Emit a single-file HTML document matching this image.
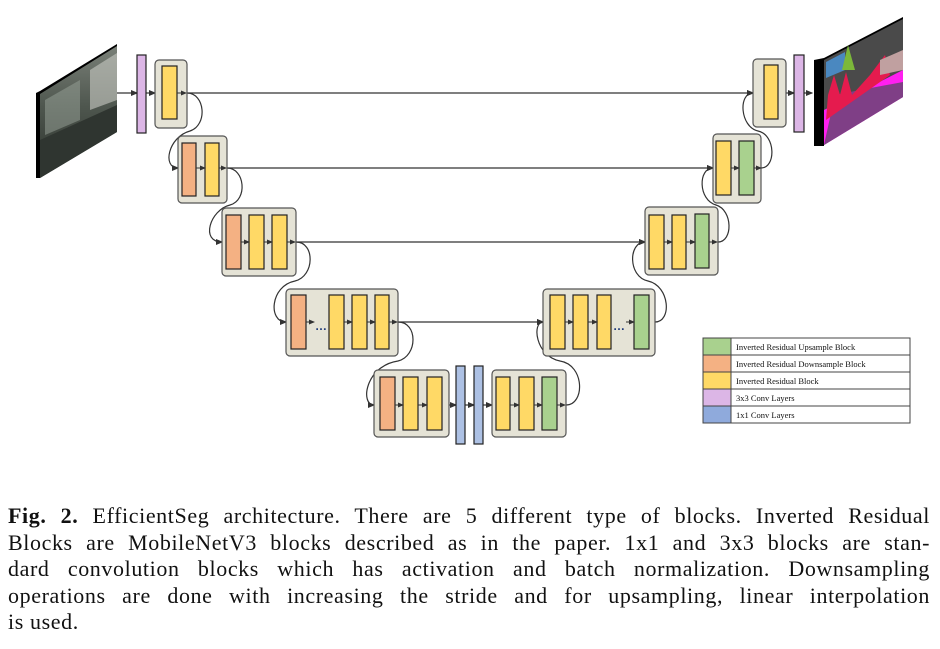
<!DOCTYPE html>
<html><head><meta charset="utf-8"><style>
html,body{margin:0;padding:0;background:#fff;width:940px;height:649px;overflow:hidden}
.cap{position:absolute;left:8px;top:503px;width:922px;font-family:"Liberation Serif",serif;font-size:22px;letter-spacing:0.6px;line-height:26.6px;color:#111}
.cap div{text-align:justify;text-align-last:justify;white-space:nowrap;height:26.6px}
.cap div.last{text-align-last:left}
</style></head><body>
<svg width="940" height="649" style="position:absolute;left:0;top:0" xmlns="http://www.w3.org/2000/svg">
<defs>
<marker id="a" markerWidth="6" markerHeight="6" refX="5" refY="3" orient="auto"><path d="M0,0.5 L6,3 L0,5.5z" fill="#333"/></marker>
<linearGradient id="street" x1="0" y1="0" x2="0" y2="1"><stop offset="0" stop-color="#7a8078"/><stop offset="0.45" stop-color="#4f574f"/><stop offset="1" stop-color="#2a302a"/></linearGradient>
</defs>
<polygon points="36,93 40,91 117,44 117,47 40,96 40,178 36,178" fill="#000"/>
<polygon points="40,94 117,46 117,132 40,178" fill="url(#street)"/>
<polygon points="90,70 117,53 117,100 90,110" fill="#c9ccc4" opacity="0.6"/>
<polygon points="45,100 80,80 80,120 45,135" fill="#9aa39a" opacity="0.5"/>
<polygon points="40,140 117,105 117,132 40,178" fill="#2f3530"/>
<polygon points="814,60 824,58 903,17 903,20 824,62 824,146 814,146" fill="#000"/>
<polygon points="824,60 903,19 903,97 824,145" fill="#4a4a4a"/>
<polygon points="824,110 903,70 903,97 824,145" fill="#ff1ff0"/>
<polygon points="835,95 860,90 903,82 903,97 824,145" fill="#7f3f86"/>
<polygon points="826,62 845,52 845,70 826,78" fill="#4a88c0"/>
<polygon points="842,70 848,45 855,70" fill="#7cb83a"/>
<polygon points="828,95 834,75 840,95 846,72 852,95 870,75 885,55 890,75 826,120" fill="#e51b4e"/>
<polygon points="880,60 903,50 903,70 880,75" fill="#c0a0a0"/>
<g stroke="#333" stroke-width="1.2" fill="none">
<line x1="187" y1="93" x2="753" y2="93" marker-end="url(#a)"/>
<line x1="227" y1="168" x2="713" y2="168" marker-end="url(#a)"/>
<line x1="296" y1="242" x2="645" y2="242" marker-end="url(#a)"/>
<line x1="398" y1="322" x2="543" y2="322" marker-end="url(#a)"/>
<line x1="117" y1="93" x2="137" y2="93" marker-end="url(#a)"/>
<line x1="146" y1="93" x2="155" y2="93" marker-end="url(#a)"/>
<line x1="786" y1="93" x2="794" y2="93" marker-end="url(#a)"/>
<line x1="804" y1="93" x2="812" y2="93" marker-end="url(#a)"/>
<path d="M187,93 C205,93 208,125 190,131 C168,137 162,168 178,168" marker-end="url(#a)"/>
<path d="M227,168 C245,168 248,200 230,205 C210,210 200,242 222,242" marker-end="url(#a)"/>
<path d="M296,242 C315,242 315,276 295,281 C270,286 268,322 286,322" marker-end="url(#a)"/>
<path d="M398,322 C418,322 418,356 398,361 C365,366 360,405 374,405" marker-end="url(#a)"/>
<path d="M566,405 C585,405 585,365 560,361 C535,356 532,322 543,322" marker-end="url(#a)"/>
<path d="M655,322 C672,322 670,286 648,281 C628,277 628,242 645,242" marker-end="url(#a)"/>
<path d="M718,242 C733,242 733,210 716,205 C698,200 698,168 713,168" marker-end="url(#a)"/>
<path d="M761,168 C776,168 776,135 758,131 C740,127 738,93 753,93" marker-end="url(#a)"/>
<line x1="449" y1="405" x2="456" y2="405" marker-end="url(#a)"/>
<line x1="465" y1="405" x2="474" y2="405" marker-end="url(#a)"/>
<line x1="483" y1="405" x2="492" y2="405" marker-end="url(#a)"/>
</g>
<g fill="#e5e3d6" stroke="#555" stroke-width="1.2">
<rect x="155" y="60" width="32" height="68" rx="4"/>
<rect x="178" y="136" width="49" height="67" rx="4"/>
<rect x="222" y="208" width="74" height="68" rx="4"/>
<rect x="286" y="289" width="112" height="67" rx="4"/>
<rect x="374" y="370" width="75" height="67" rx="4"/>
<rect x="492" y="370" width="74" height="67" rx="4"/>
<rect x="543" y="289" width="112" height="67" rx="4"/>
<rect x="645" y="207" width="73" height="68" rx="4"/>
<rect x="713" y="134" width="48" height="69" rx="4"/>
<rect x="753" y="59" width="33" height="68" rx="4"/>
</g>
<g stroke="#222" stroke-width="1.2">
<rect x="137" y="55" width="9" height="78" fill="#dcb6e6"/>
<rect x="794" y="55" width="10" height="77" fill="#dcb6e6"/>
<rect x="456" y="366" width="9" height="78" fill="#adc1e4"/>
<rect x="474" y="366" width="9" height="78" fill="#adc1e4"/>
<g fill="#ffd966">
<rect x="162" y="66" width="15" height="53"/>
<rect x="205" y="143" width="14" height="53"/>
<rect x="249" y="215" width="15" height="54"/><rect x="272" y="215" width="15" height="54"/>
<rect x="329" y="295" width="15" height="54"/><rect x="352" y="295" width="15" height="54"/><rect x="375" y="295" width="14" height="54"/>
<rect x="403" y="377" width="15" height="53"/><rect x="427" y="377" width="15" height="53"/>
<rect x="496" y="377" width="14" height="53"/><rect x="519" y="377" width="15" height="53"/>
<rect x="550" y="295" width="15" height="54"/><rect x="573" y="295" width="15" height="54"/><rect x="597" y="295" width="14" height="54"/>
<rect x="649" y="215" width="15" height="54"/><rect x="672" y="215" width="14" height="54"/>
<rect x="716" y="141" width="15" height="54"/>
<rect x="764" y="65" width="14" height="54"/>
</g>
<g fill="#f4b183">
<rect x="182" y="143" width="14" height="53"/>
<rect x="226" y="215" width="15" height="54"/>
<rect x="291" y="295" width="15" height="54"/>
<rect x="380" y="377" width="15" height="53"/>
</g>
<g fill="#a9d18e">
<rect x="542" y="377" width="15" height="53"/>
<rect x="634" y="295" width="15" height="54"/>
<rect x="695" y="214" width="14" height="54"/>
<rect x="739" y="141" width="15" height="54"/>
</g>
</g>
<g stroke="#333" stroke-width="1" fill="none">
<line x1="177" y1="93" x2="186" y2="93" marker-end="url(#a)"/>
<line x1="196" y1="168" x2="205" y2="168" marker-end="url(#a)"/><line x1="219" y1="168" x2="226" y2="168" marker-end="url(#a)"/>
<line x1="241" y1="242" x2="249" y2="242" marker-end="url(#a)"/><line x1="264" y1="242" x2="272" y2="242" marker-end="url(#a)"/><line x1="287" y1="242" x2="295" y2="242" marker-end="url(#a)"/>
<line x1="306" y1="322" x2="314" y2="322" marker-end="url(#a)"/><line x1="344" y1="322" x2="352" y2="322" marker-end="url(#a)"/><line x1="367" y1="322" x2="375" y2="322" marker-end="url(#a)"/><line x1="389" y1="322" x2="397" y2="322" marker-end="url(#a)"/>
<line x1="395" y1="405" x2="403" y2="405" marker-end="url(#a)"/><line x1="418" y1="405" x2="427" y2="405" marker-end="url(#a)"/>
<line x1="510" y1="405" x2="519" y2="405" marker-end="url(#a)"/><line x1="534" y1="405" x2="542" y2="405" marker-end="url(#a)"/><line x1="557" y1="405" x2="565" y2="405" marker-end="url(#a)"/>
<line x1="565" y1="322" x2="573" y2="322" marker-end="url(#a)"/><line x1="588" y1="322" x2="597" y2="322" marker-end="url(#a)"/><line x1="626" y1="322" x2="634" y2="322" marker-end="url(#a)"/>
<line x1="664" y1="242" x2="672" y2="242" marker-end="url(#a)"/><line x1="686" y1="242" x2="695" y2="242" marker-end="url(#a)"/><line x1="709" y1="242" x2="717" y2="242" marker-end="url(#a)"/>
<line x1="731" y1="168" x2="739" y2="168" marker-end="url(#a)"/><line x1="754" y1="168" x2="761" y2="168" marker-end="url(#a)"/>
</g>
<g fill="#1f3a7a" font-family="Liberation Sans,sans-serif" font-size="12" font-weight="bold">
<text x="315" y="330">…</text><text x="613" y="330">…</text>
</g>
<g stroke="#444" stroke-width="1">
<rect x="703" y="338" width="28" height="17" fill="#a9d18e"/><rect x="731" y="338" width="179" height="17" fill="#fff"/>
<rect x="703" y="355" width="28" height="17" fill="#f4b183"/><rect x="731" y="355" width="179" height="17" fill="#fff"/>
<rect x="703" y="372" width="28" height="17" fill="#ffd966"/><rect x="731" y="372" width="179" height="17" fill="#fff"/>
<rect x="703" y="389" width="28" height="17" fill="#dcb6e6"/><rect x="731" y="389" width="179" height="17" fill="#fff"/>
<rect x="703" y="406" width="28" height="17" fill="#8faadc"/><rect x="731" y="406" width="179" height="17" fill="#fff"/>
</g>
<g font-family="Liberation Serif,serif" font-size="8.5" fill="#111">
<text x="736" y="350">Inverted Residual Upsample Block</text>
<text x="736" y="367">Inverted Residual Downsample Block</text>
<text x="736" y="384">Inverted Residual Block</text>
<text x="736" y="401">3x3 Conv Layers</text>
<text x="736" y="418">1x1 Conv Layers</text>
</g>
</svg>
<div class="cap">
<div><b>Fig. 2.</b> EfficientSeg architecture. There are 5 different type of blocks. Inverted Residual</div>
<div>Blocks are MobileNetV3 blocks described as in the paper. 1x1 and 3x3 blocks are stan-</div>
<div>dard convolution blocks which has activation and batch normalization. Downsampling</div>
<div>operations are done with increasing the stride and for upsampling, linear interpolation</div>
<div class="last">is used.</div>
</div>
</body></html>
